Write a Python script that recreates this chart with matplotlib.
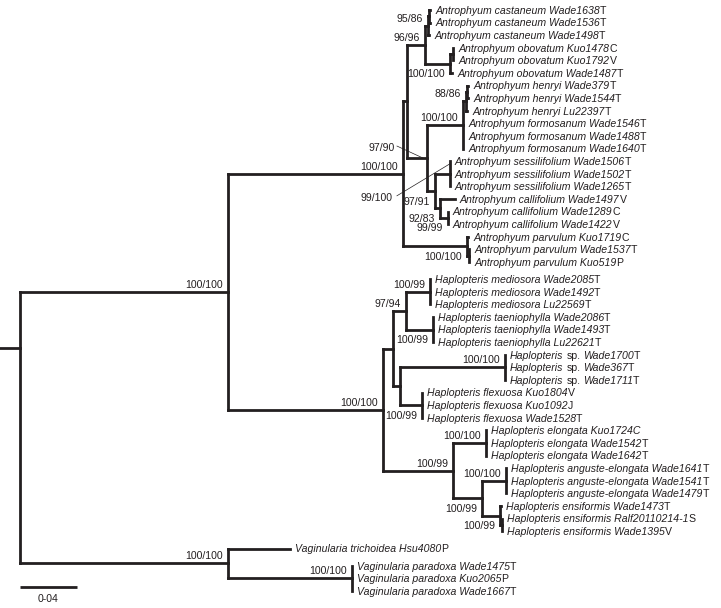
import matplotlib
matplotlib.use("Agg")
import matplotlib.pyplot as plt
from matplotlib.collections import LineCollection

# ------------------------------------------------------------------ data
# internal nodes: name, parent, branch length (substitutions/site), support (PP/BS)
node_names = ["root", "AH", "ANT", "X", "CO", "CAS", "CAS1", "OBO", "OBO1",
              "N427", "HF", "HEN", "HEN1", "SC", "SES", "CAL", "CAL1", "PAR", "PAR1",
              "HAP", "U", "MT", "MED", "TAE", "SF", "SP", "FLE",
              "E", "ELO", "AE", "ANG", "ENS", "ENS1",
              "VAG", "PAD"]
node_parents = [None, "root", "AH", "ANT", "X", "CO", "CAS", "CO", "OBO",
                "X", "N427", "HF", "HEN", "N427", "SC", "SC", "CAL", "ANT", "PAR",
                "AH", "HAP", "U", "MT", "MT", "U", "SF", "SF",
                "HAP", "E", "E", "AE", "AE", "ENS",
                "root", "VAG"]
node_lengths = [0.0, 0.146, 0.1228, 0.0028, 0.0126, 0.0021, 0.001, 0.0175, 0.002,
                0.014, 0.0253, 0.0021, 0.001, 0.0056, 0.0105, 0.0035, 0.0056, 0.0449, 0.0014,
                0.1088, 0.007, 0.0091, 0.0168, 0.0189, 0.0049, 0.0737, 0.0154,
                0.0491, 0.0232, 0.0204, 0.0168, 0.0126, 0.0014,
                0.146, 0.087]
node_support = ["", "100/100", "100/100", "", "96/96", "95/86", "", "100/100", "",
                "97/90", "100/100", "88/86", "", "97/91", "99/100", "92/83", "99/99", "100/100", "",
                "100/100", "", "97/94", "100/99", "100/99", "", "100/100", "100/99",
                "100/99", "100/100", "100/99", "100/100", "100/99", "",
                "100/100", "100/100"]
root_stem = 0.014

# tips ('|' toggles italic / upright)
tip_labels = [
    "Antrophyum castaneum Wade1638|T", "Antrophyum castaneum Wade1536|T", "Antrophyum castaneum Wade1498|T",
    "Antrophyum obovatum Kuo1478|C", "Antrophyum obovatum Kuo1792|V", "Antrophyum obovatum Wade1487|T",
    "Antrophyum henryi Wade379|T", "Antrophyum henryi Wade1544|T", "Antrophyum henryi Lu22397|T",
    "Antrophyum formosanum Wade1546|T", "Antrophyum formosanum Wade1488|T", "Antrophyum formosanum Wade1640|T",
    "Antrophyum sessilifolium Wade1506|T", "Antrophyum sessilifolium Wade1502|T", "Antrophyum sessilifolium Wade1265|T",
    "Antrophyum callifolium Wade1497|V", "Antrophyum callifolium Wade1289|C", "Antrophyum callifolium Wade1422|V",
    "Antrophyum parvulum Kuo1719|C", "Antrophyum parvulum Wade1537|T", "Antrophyum parvulum Kuo519|P",
    "Haplopteris mediosora Wade2085|T", "Haplopteris mediosora Wade1492|T", "Haplopteris mediosora Lu22569|T",
    "Haplopteris taeniophylla Wade2086|T", "Haplopteris taeniophylla Wade1493|T", "Haplopteris taeniophylla Lu22621|T",
    "Haplopteris |sp.| Wade1700|T", "Haplopteris |sp.| Wade367|T", "Haplopteris |sp.| Wade1711|T",
    "Haplopteris flexuosa Kuo1804|V", "Haplopteris flexuosa Kuo1092|J", "Haplopteris flexuosa Wade1528|T",
    "Haplopteris elongata Kuo1724C", "Haplopteris elongata Wade1542|T", "Haplopteris elongata Wade1642|T",
    "Haplopteris anguste-elongata Wade1641|T", "Haplopteris anguste-elongata Wade1541|T",
    "Haplopteris anguste-elongata Wade1479|T",
    "Haplopteris ensiformis Wade1473|T", "Haplopteris ensiformis Ralf20110214-1|S", "Haplopteris ensiformis Wade1395|V",
    "Vaginularia trichoidea Hsu4080|P",
    "Vaginularia paradoxa Wade1475|T", "Vaginularia paradoxa Kuo2065|P", "Vaginularia paradoxa Wade1667|T",
]
tip_parents = ["CAS1", "CAS1", "CAS", "OBO1", "OBO1", "OBO", "HEN1", "HEN1", "HEN",
               "HF", "HF", "HF", "SES", "SES", "SES", "CAL", "CAL1", "CAL1", "PAR", "PAR1", "PAR1",
               "MED", "MED", "MED", "TAE", "TAE", "TAE", "SP", "SP", "SP", "FLE", "FLE", "FLE",
               "ELO", "ELO", "ELO", "ANG", "ANG", "ANG", "ENS", "ENS1", "ENS1",
               "VAG", "PAD", "PAD", "PAD"]
tip_lengths = [0.0005, 0.0005, 0.001, 0.0005, 0.0005, 0.0015, 0.0005, 0.0005, 0.001,
               0, 0, 0, 0, 0, 0, 0.0105, 0, 0, 0.001, 0, 0,
               0, 0, 0, 0, 0, 0, 0, 0, 0, 0, 0, 0,
               0, 0, 0, 0, 0, 0, 0.0007, 0, 0,
               0.0435, 0, 0, 0]
gap_before_tips = [21, 42, 43]   # extra space before these tips

scale_value = 0.04
scale_text = "0-04"

# ------------------------------------------------------------------ layout / style
W, H = 721, 608
PX_PER_UNIT = 1425.0
ROOT_PX = 20.0
ROW_PX = 12.6
TOP_PX = 10.0
GAP_ROWS = 0.37
ROOT_STUB_PX = 348.0       # vertical position of the drawn root stub
FS = 7.6
FAM = ["Liberation Sans", "DejaVu Sans"]
COL = "#231f20"
LW = 2.0

label_pos = {"OBO": "b", "SC": "b", "CAL": "b", "CAL1": "b", "PAR": "b", "TAE": "b",
             "FLE": "b", "AE": "b", "ENS": "b", "N427": "L", "SES": "L"}
# leader labels: (text dx, text dy, line start dx, dy, line end dx, dy) in px
leaders = {"N427": (-32, -11, -30, -12, -4, 0),
           "SES": (-57, 23, -53, 22, 0, -10)}

def dx(px):
    return px / PX_PER_UNIT

def dy(px):
    return px / ROW_PX

fig = plt.figure(figsize=(W / 100, H / 100), dpi=100)
ax = fig.add_axes([0, 0, 1, 1])
ax.set_xlim(-ROOT_PX / PX_PER_UNIT, (W - ROOT_PX) / PX_PER_UNIT)
ax.set_ylim((H - TOP_PX) / ROW_PX, -TOP_PX / ROW_PX)
ax.axis("off")

# ------------------------------------------------------------------ tree geometry
nx, ny, children = {}, {}, {n: [] for n in node_names}
for n, p in zip(node_names, node_parents):
    if p is not None:
        children[p].append(("node", n))
for i, p in enumerate(tip_parents):
    children[p].append(("tip", i))

tip_x, tip_y = [0.0] * len(tip_labels), []
for i in range(len(tip_labels)):
    tip_y.append(i + GAP_ROWS * sum(1 for g in gap_before_tips if g <= i))

nlen = dict(zip(node_names, node_lengths))
nx["root"] = 0.0
order = ["root"]
for n in order:
    for kind, c in children[n]:
        if kind == "node":
            nx[c] = nx[n] + nlen[c]
            order.append(c)
        else:
            tip_x[c] = nx[n] + tip_lengths[c]

def child_y(kind, c):
    return ny[c] if kind == "node" else tip_y[c]

def node_y(n):
    for kind, c in children[n]:
        if kind == "node":
            node_y(c)
    ys = [child_y(k, c) for k, c in children[n]]
    ny[n] = (ys[0] + ys[-1]) / 2.0

node_y("root")

segs = []
for n in node_names:
    ys = [child_y(k, c) for k, c in children[n]]
    segs.append([(nx[n], min(ys)), (nx[n], max(ys))])
    for kind, c in children[n]:
        if kind == "node":
            if nlen[c] > 0:
                segs.append([(nx[n], ny[c]), (nx[c], ny[c])])
        elif tip_lengths[c] > 0:
            segs.append([(nx[n], tip_y[c]), (tip_x[c], tip_y[c])])
stub_y = dy(ROOT_STUB_PX - TOP_PX)
segs.append([(-root_stem, stub_y), (0, stub_y)])
lc = LineCollection(segs, colors=COL, linewidths=LW, capstyle="projecting")
ax.add_collection(lc)

# ------------------------------------------------------------------ support values
for n, s in zip(node_names, node_support):
    if not s:
        continue
    pos = label_pos.get(n, "a")
    x0, y0 = nx[n], ny[n]
    if pos == "a":
        ax.text(x0 - dx(5), y0 - dy(4), s, ha="right", va="baseline", fontsize=FS,
                family=FAM, color=COL)
    elif pos == "b":
        ax.text(x0 - dx(5), y0 + dy(13.5), s, ha="right", va="baseline", fontsize=FS,
                family=FAM, color=COL)
    else:
        tdx, tdy, sdx, sdy, edx, edy = leaders[n]
        ax.text(x0 + dx(tdx), y0 + dy(tdy), s, ha="right", va="center_baseline",
                fontsize=FS, family=FAM, color=COL)
        ax.plot([x0 + dx(sdx), x0 + dx(edx)], [y0 + dy(sdy), y0 + dy(edy)],
                color=COL, lw=0.5)

# ------------------------------------------------------------------ tip labels
fig.canvas.draw()
renderer = fig.canvas.get_renderer()

def width(s, style):
    t = ax.text(0, 0, s, fontsize=FS, family=FAM, style=style)
    w = t.get_window_extent(renderer).width
    t.remove()
    return w

space_w = {st: width("a a", st) - width("aa", st) for st in ("italic", "normal")}
inv = ax.transData.inverted()

for i, lab in enumerate(tip_labels):
    pieces = lab.split("|")
    cur = ax.transData.transform((tip_x[i], 0))[0] + 5
    yb = tip_y[i] + dy(3.8)
    for k, piece in enumerate(pieces):
        st = "italic" if k % 2 == 0 else "normal"
        lead = len(piece) - len(piece.lstrip(" "))
        trail = len(piece) - len(piece.rstrip(" "))
        core = piece.strip(" ")
        cur += lead * space_w[st]
        if core:
            xd = inv.transform((cur, 0))[0]
            t = ax.text(xd, yb, core, ha="left", va="baseline", fontsize=FS,
                        family=FAM, style=st, color=COL)
            cur += t.get_window_extent(renderer).width
        cur += trail * space_w[st]

# ------------------------------------------------------------------ scale bar
sb_y = dy(587 - TOP_PX)
ax.plot([0, scale_value], [sb_y, sb_y], color=COL, lw=LW, solid_capstyle="butt")
ax.text(scale_value / 2, dy(602 - TOP_PX), scale_text, ha="center", va="baseline",
        fontsize=FS, family=FAM, color=COL)

fig.savefig("out.png", dpi=100, facecolor="white")
